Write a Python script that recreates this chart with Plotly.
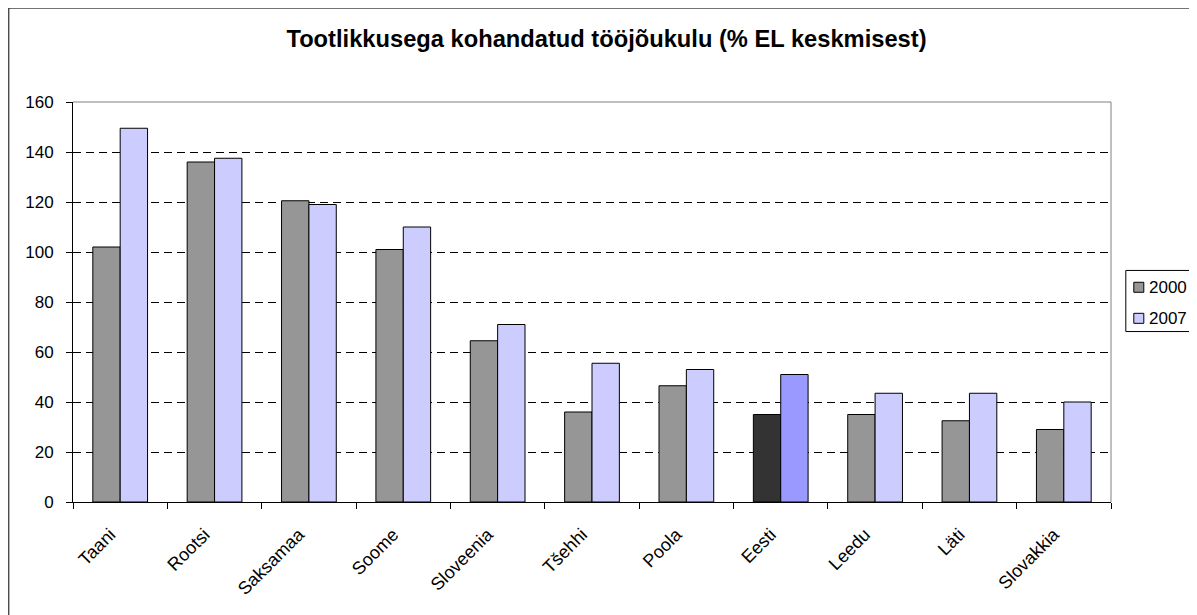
import plotly.graph_objects as go

categories = ["Taani", "Rootsi", "Saksamaa", "Soome", "Sloveenia", "Tšehhi",
              "Poola", "Eesti", "Leedu", "Läti", "Slovakkia"]
values_2000 = [102, 136, 120.5, 101, 64.5, 36, 46.5, 35, 35, 32.5, 29]
values_2007 = [149.5, 137.5, 119, 110, 71, 55.5, 53, 51, 43.5, 43.5, 40]
series_names = ["2000", "2007"]
highlight_category = "Eesti"
y_ticks = [0, 20, 40, 60, 80, 100, 120, 140, 160]
title_text = "Tootlikkusega kohandatud tööjõukulu (% EL keskmisest)"

FONT = "Liberation Sans, Arial, sans-serif"
W, H = 1197, 615
# plot area box in figure pixels (page adds an 8px body margin)
PL, PR, PT, PB = 64.7, 1102.7, 94.3, 493.7

base_colors = ["#969696", "#CCCCFF"]
hi_colors = ["#333333", "#9999FF"]


def colors_for(i):
    return [hi_colors[i] if c == highlight_category else base_colors[i] for c in categories]


def px_x(px):
    return (px - PL) / (PR - PL)


def px_y(py):
    return (PB - py) / (PB - PT)


fig = go.Figure()
for i, (name, vals) in enumerate(zip(series_names, [values_2000, values_2007])):
    fig.add_trace(go.Bar(
        x=categories, y=vals, name=name, showlegend=False,
        marker=dict(color=colors_for(i), line=dict(color="black", width=1)),
    ))

fig.update_layout(
    width=W, height=H,
    margin=dict(l=PL, r=W - PR, t=PT, b=H - PB, pad=0),
    paper_bgcolor="white", plot_bgcolor="white",
    barmode="group", bargap=0.42, bargroupgap=0,
    font=dict(family=FONT, size=17, color="black"),
    title=dict(text="<b>" + title_text + "</b>", x=0.5, xanchor="center",
               y=1 - 31 / H, yanchor="middle", yref="container",
               font=dict(family=FONT, size=23.7, color="black")),
    showlegend=False,
)
fig.update_xaxes(
    tickangle=-45, tickson="boundaries", ticks="outside", ticklen=6,
    tickcolor="black", showline=True, linecolor="black", linewidth=1,
    showgrid=False, tickfont=dict(family=FONT, size=18),
    ticklabelshift=-10, ticklabelstandoff=14,
)
fig.update_yaxes(
    range=[0, 160], tickvals=y_ticks, ticks="outside", ticklen=6,
    tickcolor="black", showline=True, linecolor="black", linewidth=1,
    showgrid=True, gridcolor="black", gridwidth=1, griddash="8px,5px",
    zeroline=False, tickfont=dict(family=FONT, size=17), ticklabelstandoff=9,
)
# plot area border (top and right, gray)
fig.add_shape(type="line", xref="paper", yref="paper", x0=0, x1=1, y0=1, y1=1,
              line=dict(color="#808080", width=1), layer="above")
fig.add_shape(type="line", xref="paper", yref="paper", x0=1, x1=1, y0=0, y1=1,
              line=dict(color="#808080", width=1), layer="above")
# outer chart border
fig.add_shape(type="rect", xref="paper", yref="paper",
              x0=px_x(0.5), x1=px_x(W - 0.5), y0=px_y(H - 0.5), y1=px_y(0.5),
              line=dict(color="black", width=1), fillcolor="rgba(0,0,0,0)", layer="above")

# legend (box, swatches, labels)
LEG_L, LEG_R, LEG_T, LEG_B = 1117.5, 1184.5, 262.5, 323.5
row_centers = [279.3, 310.3]
fig.add_shape(type="rect", xref="paper", yref="paper",
              x0=px_x(LEG_L), x1=px_x(LEG_R), y0=px_y(LEG_B), y1=px_y(LEG_T),
              line=dict(color="black", width=1), fillcolor="white", layer="above")
for i, name in enumerate(series_names):
    cy = row_centers[i]
    fig.add_shape(type="rect", xref="paper", yref="paper",
                  x0=px_x(1125.5), x1=px_x(1135.5), y0=px_y(cy + 5), y1=px_y(cy - 5),
                  line=dict(color="black", width=1), fillcolor=base_colors[i], layer="above")
    fig.add_annotation(xref="paper", yref="paper", x=px_x(1139), y=px_y(cy),
                       xanchor="left", yanchor="middle", text=name, showarrow=False,
                       font=dict(family=FONT, size=17, color="black"))

fig.write_html("out.html")
